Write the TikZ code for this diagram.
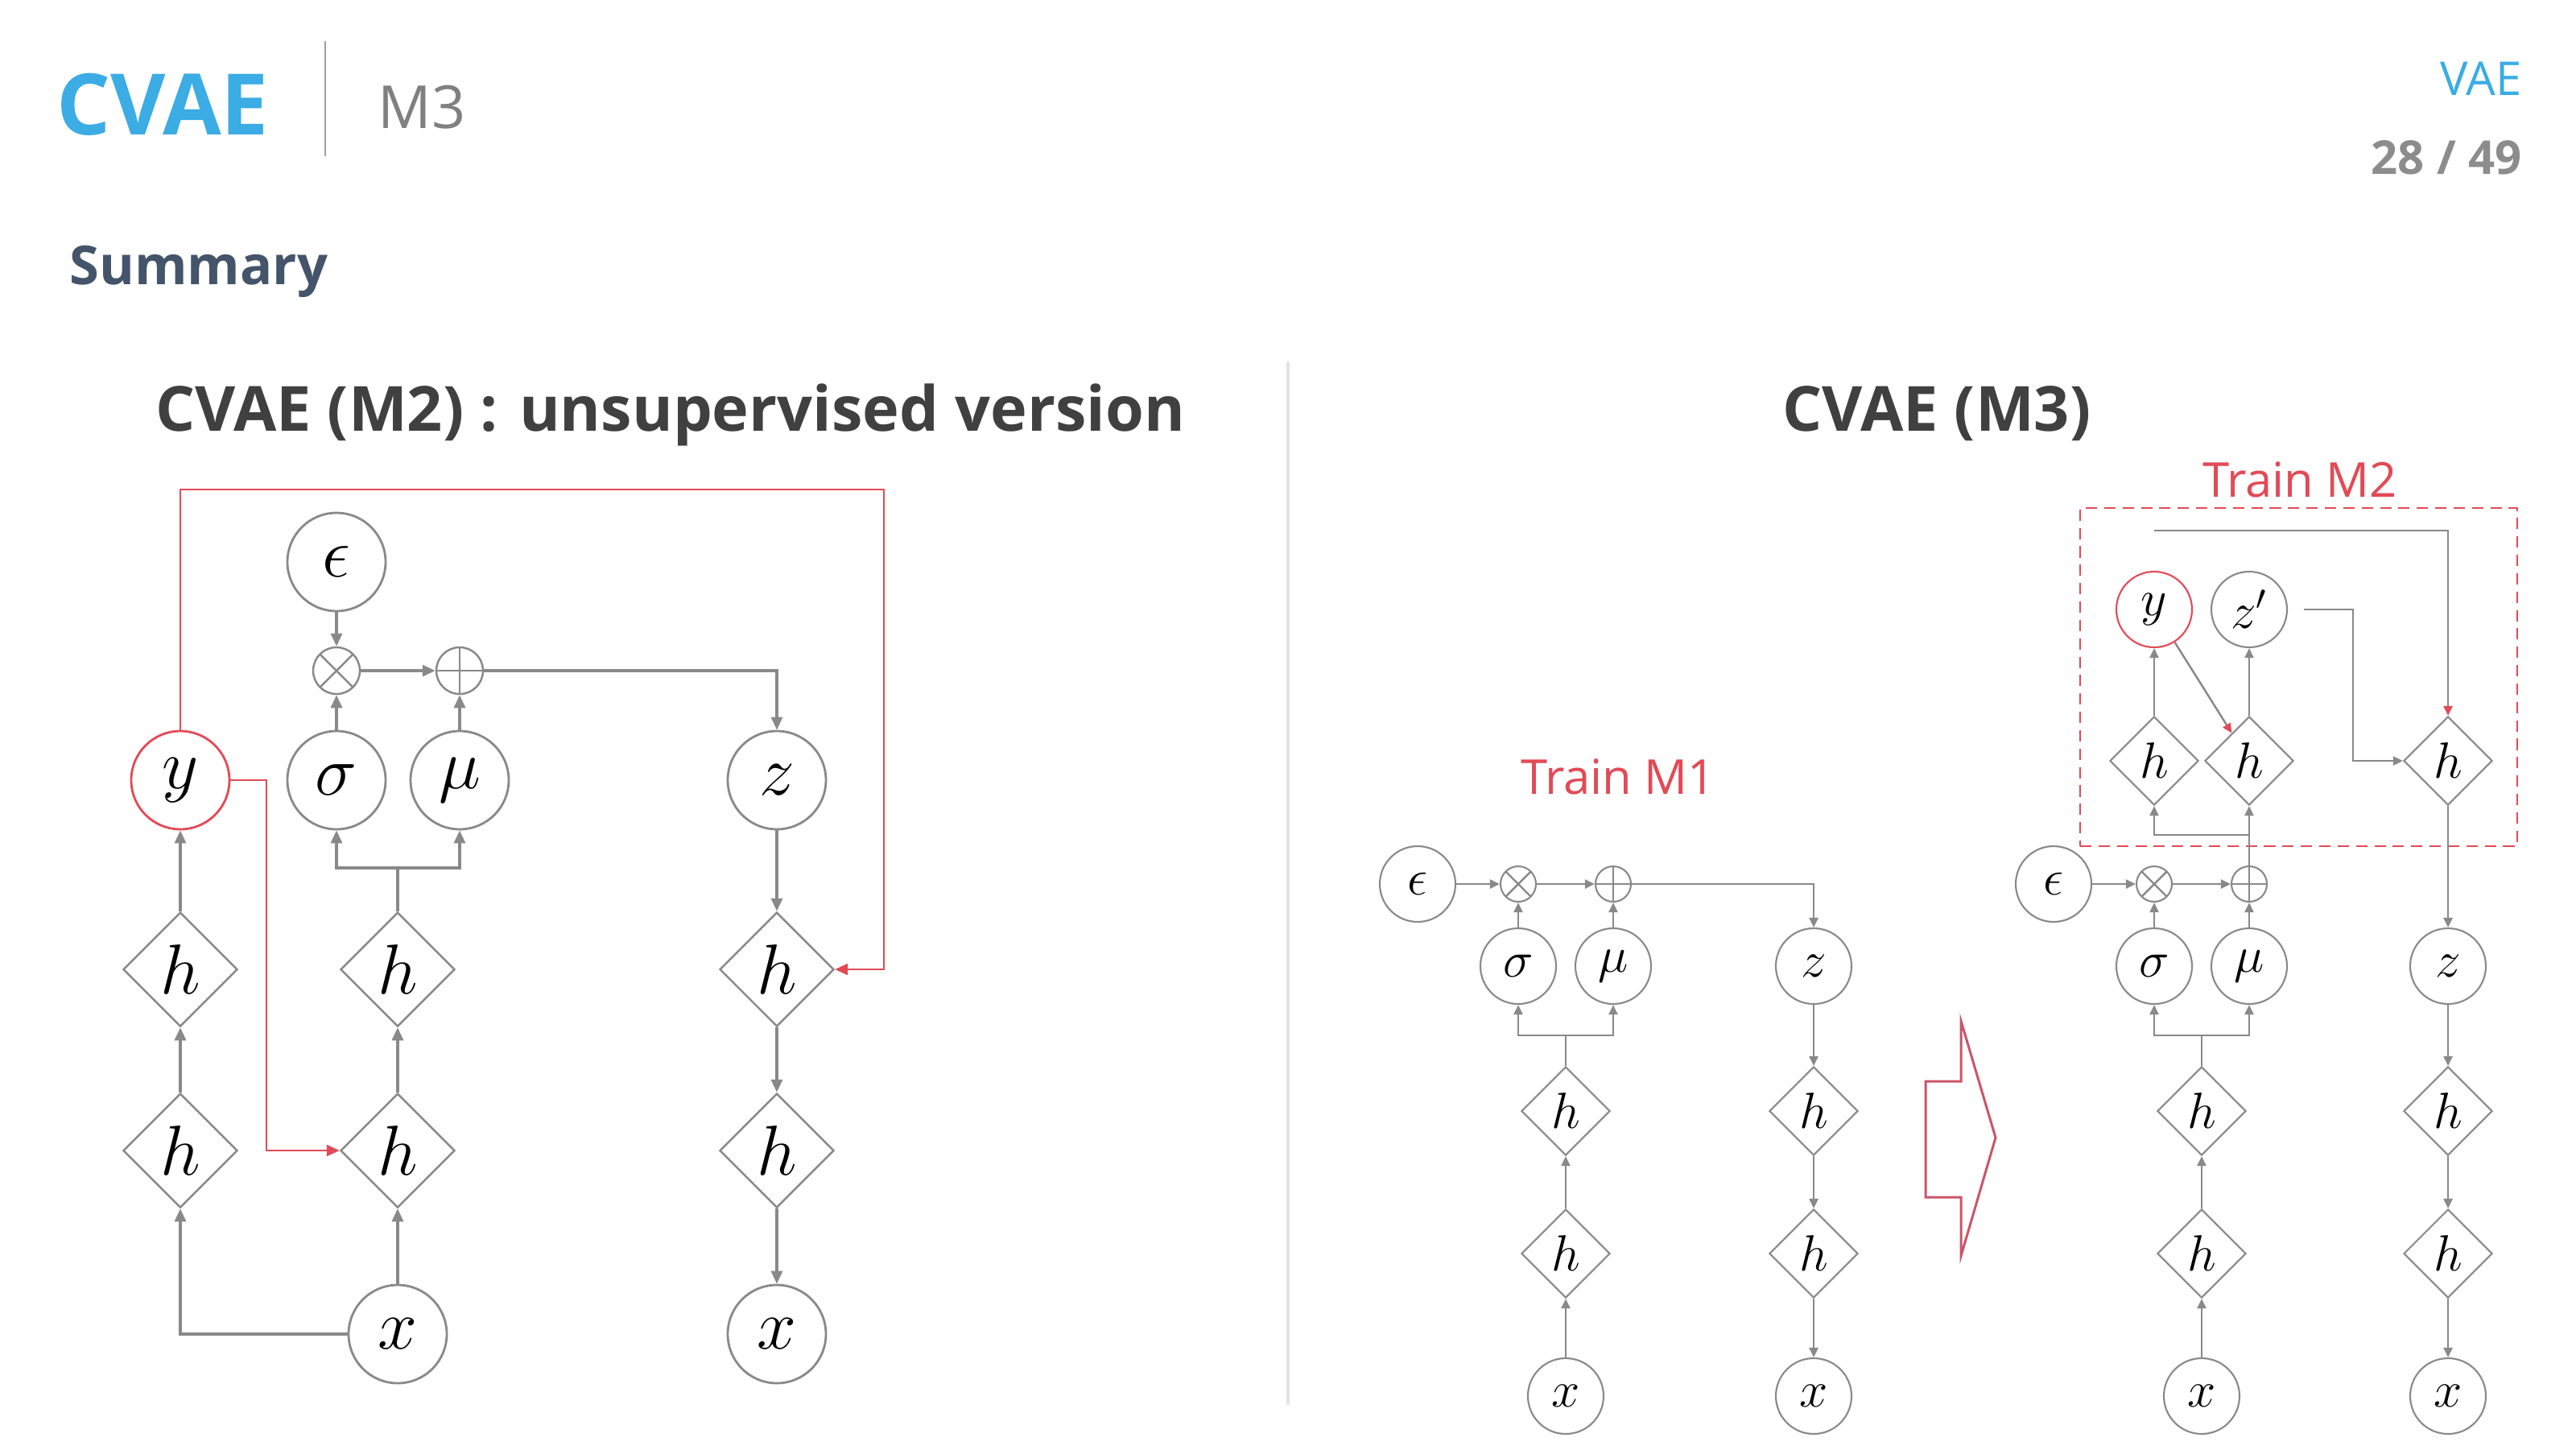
\RequirePackage{fix-cm}
\documentclass[tikz,border=0pt]{standalone}
\usepackage{fontspec}
\setmainfont{Open Sans}
\usepackage{tikz}
\usetikzlibrary{shapes.geometric, arrows.meta, positioning}

\definecolor{lngray}{RGB}{137,137,137}
\definecolor{redl}{RGB}{226,74,86}
\definecolor{cvblue}{RGB}{59,172,228}
\definecolor{ttgray}{RGB}{64,64,64}
\definecolor{sumblue}{RGB}{68,84,106}
\definecolor{pggray}{RGB}{140,140,140}
\definecolor{divgray}{RGB}{228,228,228}
\definecolor{bigred}{RGB}{204,84,104}

\tikzstyle{var} = [circle, draw=lngray, line width=0.8pt, minimum size=1.22cm, inner sep=0pt, font=\fontsize{25}{25}\selectfont]
\tikzstyle{hid} = [diamond, draw=lngray, line width=0.7pt, minimum width=1.42cm, minimum height=1.42cm, inner sep=0pt, font=\fontsize{25}{25}\selectfont]
\tikzstyle{mulop} = [circle, draw=lngray, line width=0.7pt, minimum size=0.58cm, inner sep=0pt, path picture={\draw[lngray, line width=0.7pt] (path picture bounding box.north west) -- (path picture bounding box.south east) (path picture bounding box.north east) -- (path picture bounding box.south west);}]
\tikzstyle{addop} = [circle, draw=lngray, line width=0.7pt, minimum size=0.58cm, inner sep=0pt, path picture={\draw[lngray, line width=0.7pt] (path picture bounding box.north) -- (path picture bounding box.south) (path picture bounding box.west) -- (path picture bounding box.east);}]
\tikzstyle{wire} = [draw=lngray, line width=0.9pt]
\tikzstyle{arrow} = [wire, -{Triangle[length=0.16cm, width=0.14cm]}]
\tikzstyle{redarrow} = [draw=redl, line width=0.8pt, -{Triangle[length=0.16cm, width=0.14cm]}]
\tikzstyle{title} = [font=\fontsize{22}{22}\selectfont\bfseries, text=ttgray]
\tikzstyle{trainlbl} = [font=\fontsize{17}{17}\selectfont, text=redl]

\begin{document}
\begin{tikzpicture}[node distance=2.25cm]
\useasboundingbox (0,0) rectangle (32,-18);

% Slide header
\node (cvae) [anchor=base west, inner sep=0pt, font=\fontsize{30}{30}\selectfont\bfseries, text=cvblue] at (0.70,-1.67) {CVAE};
\draw [draw=gray!75, line width=0.8pt] (4.04,-0.51) -- (4.04,-1.94);
\node (sect) [anchor=base west, inner sep=0pt, font=\fontsize{21}{21}\selectfont, text=gray] at (4.69,-1.59) {M3};
\node (topic) [anchor=base east, inner sep=0pt, font=\fontsize{16.5}{16.5}\selectfont, text=cvblue] at (31.33,-1.18) {VAE};
\node (page) [anchor=base east, inner sep=0pt, font=\fontsize{16.5}{16.5}\selectfont\bfseries, text=pggray] at (31.33,-2.16) {28 / 49};
\node (summary) [anchor=base west, inner sep=0pt, font=\fontsize{19}{19}\selectfont\bfseries, text=sumblue] at (0.86,-3.53) {Summary};

% Panel titles
\node (leftttl) [title, anchor=base west, inner sep=0pt] at (1.93,-5.35) {CVAE (M2) : unsupervised version};
\node (rightttl) [title, anchor=base, inner sep=0pt] at (24.06,-5.35) {CVAE (M3)};
\draw [draw=divgray, line width=1.1pt] (16.0,-4.49) -- (16.0,-17.45);

% CVAE (M2)
\node (eps) [var] at (4.18,-6.98) {$\epsilon$};
\node (mul) [mulop] at (4.18,-8.33) {};
\node (add) [addop] at (5.71,-8.33) {};
\node (sig) [var] at (4.18,-9.69) {$\sigma$};
\node (mu) [var] at (5.71,-9.69) {$\mu$};
\node (y) [var, draw=redl] at (2.24,-9.69) {$y$};
\node (z) [var] at (9.65,-9.69) {$z$};
\node (hy1) [hid, below of=y, yshift=-0.1cm] {$h$};
\node (hy2) [hid, below of=hy1] {$h$};
\node (he1) [hid] at (4.94,-12.04) {$h$};
\node (he2) [hid, below of=he1] {$h$};
\node (xin) [var, below of=he2, yshift=-0.03cm] {$x$};
\node (hd1) [hid, below of=z, yshift=-0.1cm] {$h$};
\node (hd2) [hid, below of=hd1] {$h$};
\node (xout) [var, below of=hd2, yshift=-0.03cm] {$x$};
\coordinate (split) at (4.94,-10.78);
\coordinate (redtop) at (10.98,-6.08);
\coordinate (redmid) at (3.31,-9.69);

\draw [arrow] (eps) -- (mul);
\draw [arrow] (sig) -- (mul);
\draw [arrow] (mu) -- (add);
\draw [arrow] (mul) -- (add);
\draw [arrow] (add) -| (z);
\draw [wire] (he1) -- (split);
\draw [arrow] (split) -| (sig);
\draw [arrow] (split) -| (mu);
\draw [arrow] (he2) -- (he1);
\draw [arrow] (xin) -- (he2);
\draw [arrow] (xin) -| (hy2);
\draw [arrow] (hy2) -- (hy1);
\draw [arrow] (hy1) -- (y);
\draw [arrow] (z) -- (hd1);
\draw [arrow] (hd1) -- (hd2);
\draw [arrow] (hd2) -- (xout);
\draw [redarrow] (y) |- (redtop) |- (hd1.east);
\draw [redarrow] (y) -- (redmid) |- (he2.west);

% Small panels
\begin{scope}[node distance=1.77cm,
  var/.append style={minimum size=0.94cm, line width=0.6pt, font=\fontsize{18}{18}\selectfont},
  hid/.append style={minimum width=1.1cm, minimum height=1.1cm, line width=0.6pt, font=\fontsize{18}{18}\selectfont},
  mulop/.append style={minimum size=0.44cm, line width=0.6pt},
  addop/.append style={minimum size=0.44cm, line width=0.6pt},
  wire/.append style={line width=0.7pt},
  arrow/.append style={-{Triangle[length=0.12cm, width=0.11cm]}},
  redtip/.style={wire, -{Triangle[length=0.12cm, width=0.11cm, color=redl]}}]

% Train M1
\node (m1lbl) [trainlbl] at (20.10,-9.65) {Train M1};
\node (eps1) [var] at (17.61,-10.98) {$\epsilon$};
\node (mul1) [mulop] at (18.86,-10.98) {};
\node (add1) [addop] at (20.04,-10.98) {};
\node (sig1) [var] at (18.86,-12.00) {$\sigma$};
\node (mu1) [var] at (20.04,-12.00) {$\mu$};
\node (z1) [var] at (22.53,-12.00) {$z$};
\node (he11) [hid] at (19.45,-13.80) {$h$};
\node (he12) [hid, below of=he11] {$h$};
\node (xin1) [var, below of=he12] {$x$};
\node (hd11) [hid] at (22.53,-13.80) {$h$};
\node (hd12) [hid, below of=hd11] {$h$};
\node (xout1) [var, below of=hd12] {$x$};
\coordinate (split1) at (19.45,-12.86);

\draw [arrow] (eps1) -- (mul1);
\draw [arrow] (sig1) -- (mul1);
\draw [arrow] (mul1) -- (add1);
\draw [arrow] (mu1) -- (add1);
\draw [arrow] (add1) -| (z1);
\draw [wire] (he11) -- (split1);
\draw [arrow] (split1) -| (sig1);
\draw [arrow] (split1) -| (mu1);
\draw [arrow] (he12) -- (he11);
\draw [arrow] (xin1) -- (he12);
\draw [arrow] (z1) -- (hd11);
\draw [arrow] (hd11) -- (hd12);
\draw [arrow] (hd12) -- (xout1);

% Big hollow arrow
\draw [draw=bigred, line width=0.85pt, line join=miter] (23.92,-13.43) -- (24.36,-13.43) -- (24.36,-12.68) -- (24.79,-14.13) -- (24.36,-15.60) -- (24.36,-14.87) -- (23.92,-14.87) -- cycle;

% CVAE (M3)
\node (m2) [draw=redl, dashed, dash pattern=on 4pt off 2.5pt, line width=0.7pt, minimum width=5.43cm, minimum height=4.20cm] at (28.555,-8.41) {};
\node (m2lbl) [trainlbl] at (28.57,-5.96) {Train M2};
\node (yc) [var, draw=redl] at (26.76,-7.57) {$y$};
\node (zp) [var] at (27.94,-7.57) {$z'$};
\node (hy) [hid] at (26.76,-9.45) {$h$};
\node (hz) [hid] at (27.94,-9.45) {$h$};
\node (hm) [hid] at (30.41,-9.45) {$h$};
\node (eps2) [var] at (25.51,-10.98) {$\epsilon$};
\node (mul2) [mulop] at (26.76,-10.98) {};
\node (add2) [addop] at (27.94,-10.98) {};
\node (sig2) [var] at (26.76,-12.00) {$\sigma$};
\node (mu2) [var] at (27.94,-12.00) {$\mu$};
\node (z2) [var] at (30.41,-12.00) {$z$};
\node (he21) [hid] at (27.35,-13.80) {$h$};
\node (he22) [hid, below of=he21] {$h$};
\node (xin2) [var, below of=he22] {$x$};
\node (hd21) [hid] at (30.41,-13.80) {$h$};
\node (hd22) [hid, below of=hd21] {$h$};
\node (xout2) [var, below of=hd22] {$x$};
\coordinate (split2) at (27.35,-12.86);
\coordinate (branch) at (27.94,-10.37);
\coordinate (ytop) at (26.76,-6.59);
\coordinate (zpturn) at (29.23,-7.57);

\draw [arrow] (eps2) -- (mul2);
\draw [arrow] (sig2) -- (mul2);
\draw [arrow] (mul2) -- (add2);
\draw [arrow] (mu2) -- (add2);
\draw [wire] (he21) -- (split2);
\draw [arrow] (split2) -| (sig2);
\draw [arrow] (split2) -| (mu2);
\draw [arrow] (he22) -- (he21);
\draw [arrow] (xin2) -- (he22);
\draw [wire] (add2) -- (branch);
\draw [arrow] (branch) -- (hz);
\draw [arrow] (branch) -| (hy);
\draw [arrow] (hy) -- (yc);
\draw [arrow] (hz) -- (zp);
\draw [redtip] (yc) -- (hz);
\draw [redtip] (ytop) -| (hm);
\draw [arrow, shorten <=0.2cm] (zp) -- (zpturn) |- (hm);
\draw [arrow] (hm) -- (z2);
\draw [arrow] (z2) -- (hd21);
\draw [arrow] (hd21) -- (hd22);
\draw [arrow] (hd22) -- (xout2);
\end{scope}

\end{tikzpicture}
\end{document}
